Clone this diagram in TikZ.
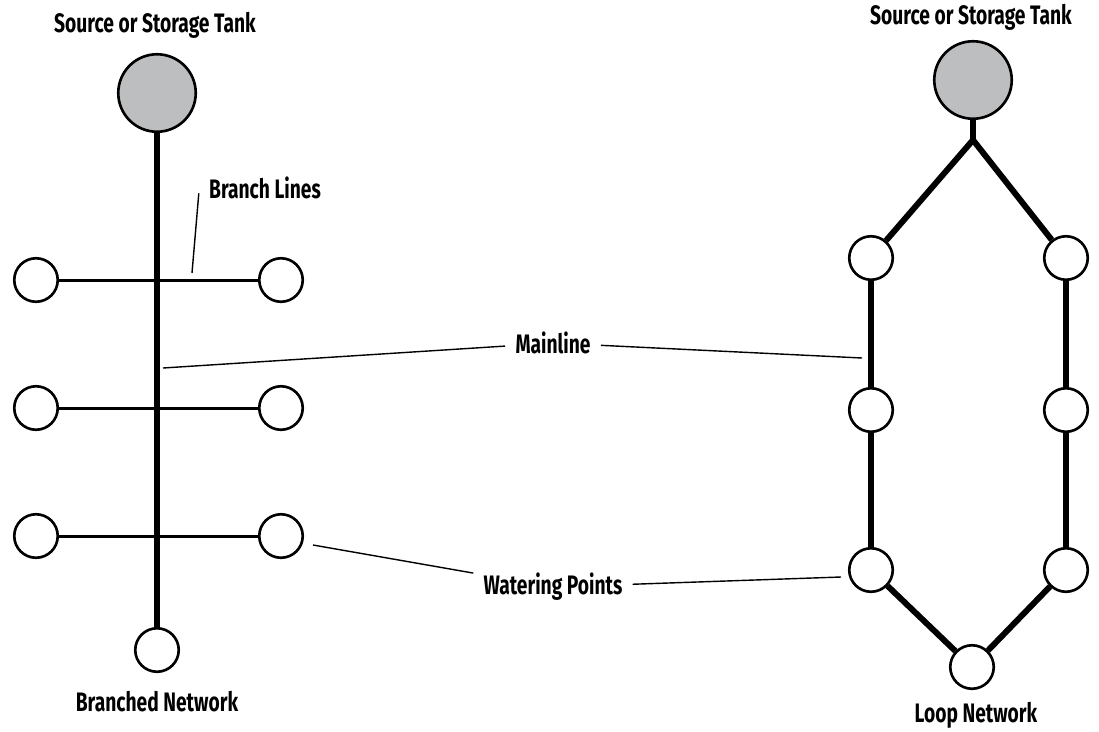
\documentclass[tikz,border=0pt]{standalone}
\usepackage{fontspec}
\setmainfont{Fira Sans}[FakeStretch=0.72]
\usetikzlibrary{positioning}
\definecolor{tankgray}{HTML}{BDBEC0}
\tikzset{tank node/.style={circle,draw,line width=1.5pt,fill=tankgray,minimum size=1.55cm,inner sep=0pt}}
\tikzset{tap node/.style={circle,draw,line width=1.5pt,fill=white,minimum size=0.87cm,inner sep=0pt}}
\tikzset{label node/.style={font=\bfseries\fontsize{15.2}{17}\selectfont,inner sep=0.2cm}}
\tikzset{main line/.style={line width=3.4pt}}
\tikzset{branch line/.style={line width=1.7pt}}
\tikzset{leader line/.style={line width=0.8pt}}

\begin{document}
\begin{tikzpicture}[x=0.02cm,y=-0.02cm]
    \useasboundingbox (0,0) rectangle (1099,731);

    % branched network
    \node[tank node] (1) at (157,93) {};
    \node[label node] (t1) at (155,25) {Source or Storage Tank};
    \node[tap node] (a1) at (36,280) {};
    \node[tap node] (b1) at (281,280) {};
    \node[tap node] (a2) at (36,408) {};
    \node[tap node] (b2) at (281,408) {};
    \node[tap node] (a3) at (36,536) {};
    \node[tap node] (b3) at (281,536) {};
    \node[tap node] (e) at (157,650) {};
    \node[label node] (t2) at (157,702) {Branched Network};

    \draw[main line] (1) -- (e);
    \draw[branch line] (a1) -- (b1);
    \draw[branch line] (a2) -- (b2);
    \draw[branch line] (a3) -- (b3);

    % loop network
    \node[tank node] (2) at (973,80) {};
    \node[label node] (t3) at (971,17) {Source or Storage Tank};
    \coordinate (j) at (973,140);
    \node[tap node] (p1) at (871,258) {};
    \node[tap node] (p2) at (871,410) {};
    \node[tap node] (p3) at (871,570) {};
    \node[tap node] (q1) at (1066,258) {};
    \node[tap node] (q2) at (1066,410) {};
    \node[tap node] (q3) at (1066,570) {};
    \node[tap node] (r) at (972,667) {};
    \node[label node] (t4) at (976,715) {Loop Network};

    \draw[main line] (2) -- (j);
    \draw[main line] (p1) -- (j) -- (q1);
    \foreach \a/\b in {p1/p2,p2/p3,p3/r,r/q3,q3/q2,q2/q1}
        \draw[main line] (\a) -- (\b);

    % callouts
    \node[label node] (bl) at (265,188) {Branch Lines};
    \node[label node] (ml) at (553,343) {Mainline};
    \node[label node] (wp) at (553,587) {Watering Points};
    \coordinate (bc) at (192,273);
    \coordinate (m0) at (163,368);
    \coordinate (m1) at (862,358);
    \coordinate (w0) at (313,545);
    \coordinate (w1) at (841,577);

    \draw[leader line] ([yshift=-3pt]bl.west) -- (bc);
    \draw[leader line] (ml) -- (m0);
    \draw[leader line] (ml) -- (m1);
    \draw[leader line] (wp) -- (w0);
    \draw[leader line] (wp) -- (w1);
\end{tikzpicture}
\end{document}
